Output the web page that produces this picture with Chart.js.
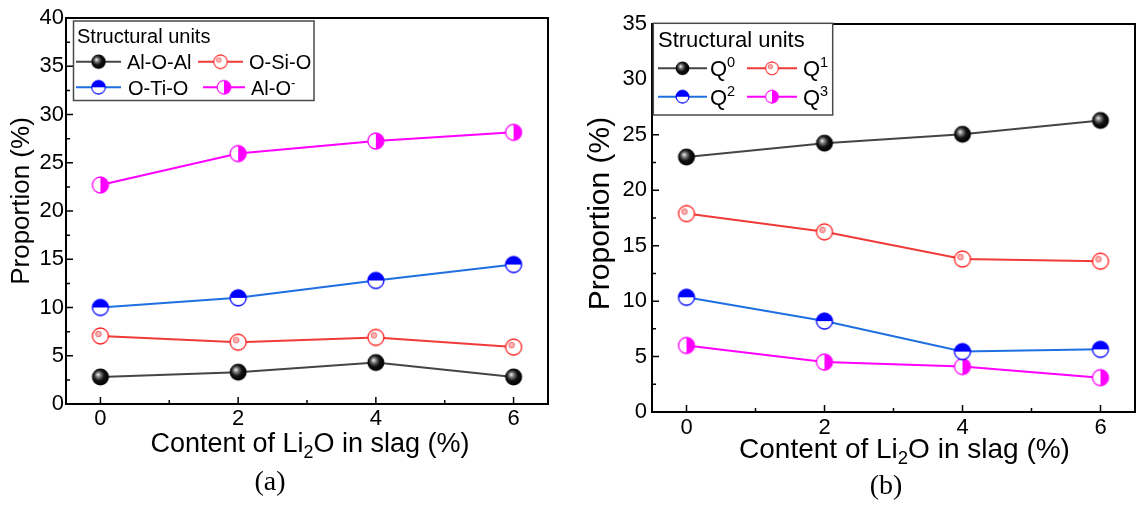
<!DOCTYPE html>
<html>
<head>
<meta charset="utf-8">
<script src="https://cdn.jsdelivr.net/npm/chart.js"></script>
<style>
    body { margin: 0; background: #fff; width: 1146px; height: 506px; position: relative; overflow: hidden; }
    canvas { position: absolute; top: 0; }
    #graficoA { left: 0; }
    #graficoB { left: 566px; }
</style>
</head>
<body>
<canvas id="graficoA" width="566" height="506"></canvas>
<canvas id="graficoB" width="580" height="506"></canvas>
<script>
// Contenido de Li2O en la escoria (%)
var contenidoLi2O = [0, 2, 4, 6];
var ticksX = [0, 2, 4, 6];

// (a) unidades estructurales por enlace (%)
var alOAl = [2.8, 3.3, 4.3, 2.8];
var oSiO = [7.05, 6.4, 6.9, 5.9];
var oTiO = [10.0, 11.0, 12.8, 14.45];
var alO = [22.7, 25.95, 27.25, 28.15];

// (b) unidades Qn (%)
var q0 = [23.0, 24.25, 25.05, 26.3];
var q1 = [17.9, 16.25, 13.8, 13.6];
var q2 = [10.35, 8.2, 5.45, 5.65];
var q3 = [6.0, 4.5, 4.1, 3.1];

var maxYA = 40;
var maxYB = 35;

var FUENTE = '"Liberation Sans", Arial, sans-serif';
var FUENTE_SERIF = '"Liberation Serif", "Times New Roman", serif';

document.addEventListener('DOMContentLoaded', f_principal);

function f_principal() {
    graficoA();
    graficoB();
}

// marcadores estilo Origin: esfera, circulo con brillo, medio relleno
function crearMarcador(tipo, color) {
    var c = document.createElement('canvas');
    c.width = 20;
    c.height = 20;
    var ctx = c.getContext('2d');
    var cx = 10, cy = 10, r = 8;
    ctx.lineWidth = 1.3;
    if (tipo == 'esfera') {
        var g = ctx.createRadialGradient(cx - 2.5, cy - 2.5, 0, cx - 1, cy - 1, r + 1);
        g.addColorStop(0, '#f4f4f4');
        g.addColorStop(0.28, '#7a7a7a');
        g.addColorStop(0.6, '#141414');
        g.addColorStop(1, '#000');
        ctx.fillStyle = g;
        ctx.beginPath();
        ctx.arc(cx, cy, r + 0.5, 0, Math.PI * 2);
        ctx.fill();
    } else if (tipo == 'anillo') {
        ctx.fillStyle = '#fff';
        ctx.strokeStyle = color;
        ctx.beginPath();
        ctx.arc(cx, cy, r, 0, Math.PI * 2);
        ctx.fill();
        ctx.stroke();
        ctx.fillStyle = '#ffb4b4';
        ctx.strokeStyle = '#f06a6a';
        ctx.lineWidth = 1;
        ctx.beginPath();
        ctx.arc(cx - 2, cy - 2, 2.8, 0, Math.PI * 2);
        ctx.fill();
        ctx.stroke();
    } else {
        ctx.fillStyle = '#fff';
        ctx.beginPath();
        ctx.arc(cx, cy, r, 0, Math.PI * 2);
        ctx.fill();
        ctx.fillStyle = color;
        ctx.beginPath();
        if (tipo == 'arriba') {
            ctx.arc(cx, cy, r, Math.PI, 0);
        } else {
            ctx.arc(cx, cy, r, -Math.PI / 2, Math.PI / 2);
        }
        ctx.closePath();
        ctx.fill();
        ctx.strokeStyle = color;
        ctx.beginPath();
        ctx.arc(cx, cy, r, 0, Math.PI * 2);
        ctx.stroke();
    }
    return c;
}

// '^{..}' superindice, '_{..}' subindice
function partesTexto(texto) {
    var partes = [];
    var re = /([\^_])\{([^}]*)\}/g;
    var ult = 0, m;
    while ((m = re.exec(texto)) !== null) {
        if (m.index > ult) partes.push({ t: texto.slice(ult, m.index), tipo: '' });
        partes.push({ t: m[2], tipo: m[1] == '^' ? 'sup' : 'sub' });
        ult = re.lastIndex;
    }
    if (ult < texto.length) partes.push({ t: texto.slice(ult), tipo: '' });
    return partes;
}

function dibujarTexto(ctx, texto, x, base, tam, familia, alinear) {
    var partes = partesTexto(texto);
    var ancho = 0;
    partes.forEach(function (p) {
        p.tam = p.tipo ? tam * 0.66 : tam;
        ctx.font = p.tam + 'px ' + familia;
        p.w = ctx.measureText(p.t).width;
        ancho += p.w;
    });
    var px = alinear == 'center' ? x - ancho / 2 : x;
    ctx.textAlign = 'left';
    ctx.textBaseline = 'alphabetic';
    partes.forEach(function (p) {
        ctx.font = p.tam + 'px ' + familia;
        var dy = 0;
        if (p.tipo == 'sup') dy = -tam * 0.4;
        if (p.tipo == 'sub') dy = tam * 0.22;
        ctx.fillText(p.t, px, base + dy);
        px += p.w;
    });
}

// marco completo con ticks hacia dentro
var marcoPlugin = {
    id: 'marco',
    afterDatasetsDraw: function (chart, args, opts) {
        var ctx = chart.ctx;
        var a = chart.chartArea;
        var sx = chart.scales.x, sy = chart.scales.y;
        var maxY = sy.max;
        ctx.save();
        ctx.strokeStyle = '#000';
        ctx.lineWidth = 1.5;
        ctx.beginPath();
        for (var t = 0; t <= 6; t++) {
            var px = sx.getPixelForValue(t);
            ctx.moveTo(px, a.bottom);
            ctx.lineTo(px, a.bottom - (t % 2 == 0 ? 7 : 4));
        }
        for (var v = 0; v <= maxY; v += 2.5) {
            var py = sy.getPixelForValue(v);
            ctx.moveTo(a.left, py);
            ctx.lineTo(a.left + (v % 5 == 0 ? 7 : 4), py);
        }
        ctx.stroke();
        ctx.lineWidth = 2;
        ctx.strokeRect(a.left, a.top, a.right - a.left, a.bottom - a.top);
        ctx.restore();
    }
};

// leyenda dentro del area del grafico, dos columnas
var leyendaPlugin = {
    id: 'leyenda',
    afterDatasetsDraw: function (chart, args, opts) {
        var ctx = chart.ctx;
        var c = opts.caja;
        ctx.save();
        ctx.fillStyle = '#fff';
        ctx.fillRect(c[0], c[1], c[2], c[3]);
        ctx.strokeStyle = '#4a4a4a';
        ctx.lineWidth = 1.5;
        ctx.strokeRect(c[0], c[1], c[2], c[3]);
        ctx.fillStyle = '#000';
        dibujarTexto(ctx, 'Structural units', opts.tituloX, opts.tituloBase, opts.tam, FUENTE, 'left');
        chart.data.datasets.forEach(function (ds, i) {
            var fila = Math.floor(i / 2);
            var col = opts.columnas[i];
            var cy = opts.filas[fila];
            ctx.strokeStyle = ds.borderColor;
            ctx.lineWidth = 2;
            ctx.beginPath();
            ctx.moveTo(col[0], cy);
            ctx.lineTo(col[1], cy);
            ctx.stroke();
            var img = ds.pointStyle;
            var t = opts.tamMarcador;
            ctx.drawImage(img, (col[0] + col[1]) / 2 - t / 2, cy - t / 2, t, t);
            ctx.fillStyle = '#000';
            dibujarTexto(ctx, ds.label, col[2], cy + opts.tam * 0.36, opts.tamItem, FUENTE, 'left');
        });
        ctx.restore();
    }
};

// titulos de ejes y etiqueta del panel
var titulosPlugin = {
    id: 'titulos',
    afterDraw: function (chart, args, opts) {
        var ctx = chart.ctx;
        ctx.save();
        ctx.fillStyle = '#000';
        ctx.translate(opts.y[0], opts.y[1]);
        ctx.rotate(-Math.PI / 2);
        dibujarTexto(ctx, 'Proportion (%)', 0, opts.y[2] * 0.26, opts.y[2], FUENTE, 'center');
        ctx.restore();
        ctx.save();
        ctx.fillStyle = '#000';
        dibujarTexto(ctx, 'Content of Li_{2}O in slag (%)', opts.x[0], opts.x[1], opts.x[2], FUENTE, 'center');
        dibujarTexto(ctx, opts.panel[3], opts.panel[0], opts.panel[1], opts.panel[2], FUENTE_SERIF, 'center');
        ctx.restore();
    }
};

function serie(valores) {
    return contenidoLi2O.map(function (c, i) {
        return { x: c, y: valores[i] };
    });
}

function dataset(label, valores, color, marcador) {
    return {
        label: label,
        data: serie(valores),
        borderColor: color,
        borderWidth: 2,
        pointStyle: marcador,
        pointRadius: 9,
        tension: 0
    };
}

function opciones(cfg) {
    return {
        responsive: false,
        animation: false,
        events: [],
        layout: { padding: cfg.padding },
        plugins: {
            legend: { display: false },
            tooltip: { enabled: false },
            leyenda: cfg.leyenda,
            titulos: cfg.titulos
        },
        scales: {
            x: {
                type: 'linear',
                min: -0.5,
                max: 6.5,
                grid: { display: false, drawTicks: false },
                border: { display: false },
                ticks: { color: '#000', font: { family: FUENTE, size: cfg.tamTick }, padding: cfg.padX },
                afterBuildTicks: function (s) {
                    s.ticks = ticksX.map(function (v) { return { value: v }; });
                },
                afterFit: function (s) { s.height = cfg.altoX; }
            },
            y: {
                min: 0,
                max: cfg.maxY,
                grid: { display: false, drawTicks: false },
                border: { display: false },
                ticks: { stepSize: 5, color: '#000', font: { family: FUENTE, size: cfg.tamTick }, padding: cfg.padY },
                afterFit: function (s) { s.width = cfg.anchoY; }
            }
        }
    };
}

function graficoA() {
    var data = {
        datasets: [
            dataset('Al-O-Al', alOAl, '#454545', crearMarcador('esfera')),
            dataset('O-Si-O', oSiO, '#f03a3a', crearMarcador('anillo', '#ff2020')),
            dataset('O-Ti-O', oTiO, '#1f6fe0', crearMarcador('arriba', '#0000ff')),
            dataset('Al-O^{-}', alO, '#ff00ff', crearMarcador('derecha', '#ff00ff'))
        ]
    };
    var options = opciones({
        padding: { left: 0, top: 18, right: 18, bottom: 0 },
        maxY: maxYA,
        anchoY: 66,
        altoX: 102,
        tamTick: 22,
        padX: 2,
        padY: 2,
        leyenda: {
            caja: [73.5, 21, 240.5, 79.5],
            tituloX: 77, tituloBase: 43, tam: 20, tamItem: 20, tamMarcador: 17,
            filas: [61.7, 87.3],
            columnas: [[76, 121, 127], [198, 243, 249], [76, 121, 128], [203, 245, 251]]
        },
        titulos: {
            y: [22, 201, 26],
            x: [310, 452, 27],
            panel: [270, 490, 28, '(a)']
        }
    });
    var ctx = document.getElementById('graficoA').getContext('2d');
    var grafico = new Chart(ctx, {
        type: 'line',
        data: data,
        options: options,
        plugins: [marcoPlugin, leyendaPlugin, titulosPlugin]
    });
}

function graficoB() {
    var data = {
        datasets: [
            dataset('Q^{0}', q0, '#454545', crearMarcador('esfera')),
            dataset('Q^{1}', q1, '#f03a3a', crearMarcador('anillo', '#ff2020')),
            dataset('Q^{2}', q2, '#1f6fe0', crearMarcador('arriba', '#0000ff')),
            dataset('Q^{3}', q3, '#ff00ff', crearMarcador('derecha', '#ff00ff'))
        ]
    };
    var options = opciones({
        padding: { left: 0, top: 24, right: 2, bottom: 0 },
        maxY: maxYB,
        anchoY: 86,
        altoX: 94,
        tamTick: 22,
        padX: 3,
        padY: 5,
        leyenda: {
            caja: [87.3, 23.3, 179.4, 91.7],
            tituloX: 92, tituloBase: 46.7, tam: 22, tamItem: 22, tamMarcador: 16,
            filas: [68.3, 96.7],
            columnas: [[92, 141, 144], [181, 231, 237], [92, 141, 144], [181, 231, 237]]
        },
        titulos: {
            y: [35.5, 213.5, 30],
            x: [338.5, 458, 28],
            panel: [320, 494, 28, '(b)']
        }
    });
    var ctx = document.getElementById('graficoB').getContext('2d');
    var grafico = new Chart(ctx, {
        type: 'line',
        data: data,
        options: options,
        plugins: [marcoPlugin, leyendaPlugin, titulosPlugin]
    });
}
</script>
</body>
</html>
